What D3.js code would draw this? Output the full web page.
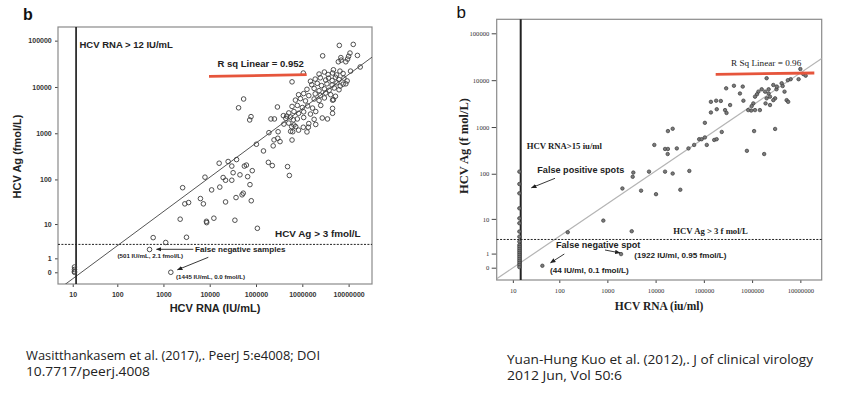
<!DOCTYPE html>
<html>
<head>
<meta charset="utf-8">
<script src="https://cdn.jsdelivr.net/npm/d3@7"></script>
<style>
  body { margin: 0; background: #fff; }
  svg { display: block; }
</style>
</head>
<body>
<div id="chart"></div>
<script>
const width = 842;
const height = 402;

// ---- data ----
const xTicks = [10, 100, 1000, 10000, 100000, 1000000, 10000000];
const yTicks = [0, 1, 10, 100, 1000, 10000, 100000];

// Wasitthankasem 2017: [HCV RNA IU/mL, HCV Ag fmol/L]
const wasPoints = [
  [2600, 66], [2900, 29], [3500, 31], [2300, 13], [600, 4.6], [1120, 3.4], [3150, 4.7],
  [501, 2.1], [1445, 0], [6300, 38], [7300, 29], [11000, 59], [16500, 68], [22000, 96],
  [30000, 96], [8500, 11.6], [8600, 10.8], [12300, 13.7], [22000, 32], [37000, 40],
  [50000, 46], [53000, 50], [79000, 34], [35000, 12.3], [107000, 7.9], [74000, 77],
  [11, 0.3], [11, 0.15], [11, 0.05], [11, 0],
  [54000, 5500], [42000, 3550], [78000, 2290], [73000, 1940], [290000, 3700], [210000, 2040],
  [250000, 2040], [390000, 2400], [460000, 2350], [190000, 1030], [300000, 1080], [295000, 780],
  [245000, 720], [330000, 660], [235000, 535], [145000, 415], [102000, 580], [185000, 235],
  [225000, 200], [525000, 122], [38000, 270], [25000, 245], [30000, 195], [16000, 225],
  [56000, 195], [62000, 205], [83000, 155], [32000, 140], [45000, 126], [19500, 110],
  [66000, 115], [7900, 112], [480000, 190], [600000, 715], [620000, 1080], [720000, 1390],
  [1.05e6, 1350], [1.35e6, 1350], [590000, 1390], [640000, 1950],
  [6.3e6, 79000], [1.26e7, 83000], [2.75e6, 47000], [1.07e7, 54000], [1.0e7, 46000],
  [9.5e6, 40000], [6.8e6, 43000], [6.0e6, 35000], [6.9e6, 38000], [1.55e7, 48000],
  [1.78e7, 27000], [600000, 12900], [1.5e6, 13300], [4.7e6, 23500], [8.7e6, 11700],
  [4.7e6, 5300], [4.5e6, 3450], [1.05e6, 20000], [1.1e7, 22000], [8.7e6, 35000],
  [2.3e6, 19000], [3.0e6, 21000], [3.6e6, 18600], [4.5e6, 20000], [5.5e6, 18200], [6.5e6, 22000], [7.6e6, 19500],
  [1.9e6, 14800], [2.45e6, 15800], [3.2e6, 14100], [3.7e6, 15500], [4.4e6, 13800], [5.2e6, 16200],
  [6.2e6, 14500], [7.9e6, 15500], [9.3e6, 13500],
  [1.6e6, 11200], [2.1e6, 12000], [2.6e6, 10700], [3.4e6, 11700], [4.4e6, 11000], [5.6e6, 12300],
  [6.6e6, 10500], [7.6e6, 11500],
  [1.26e6, 8900], [1.8e6, 9300], [2.3e6, 8300], [3.0e6, 9100], [3.8e6, 8500], [4.9e6, 9500], [6.2e6, 8700],
  [830000, 6800], [1.07e6, 7200], [1.38e6, 6500], [1.9e6, 7100], [2.45e6, 6600], [3.2e6, 7400],
  [4.1e6, 6800], [5.2e6, 6300],
  [710000, 5200], [910000, 5600], [1.17e6, 5000], [1.8e6, 5500], [2.3e6, 5100], [3.0e6, 5800], [4.5e6, 5200],
  [600000, 3800], [780000, 4000], [1.0e6, 3600], [1.3e6, 3900], [1.66e6, 3500], [2.5e6, 4000],
  [510000, 2750], [660000, 2950], [830000, 2700], [1.07e6, 2900], [1.5e6, 2600], [1.95e6, 2950], [4.5e6, 2700],
  [440000, 2100], [560000, 2240], [780000, 2040], [1.07e6, 2190], [1.8e6, 2000], [2.7e6, 2140], [3.5e6, 2040],
  [400000, 1580], [510000, 1660], [660000, 1510], [1.38e6, 1620], [1.95e6, 1550],
  [560000, 1100], [830000, 1170], [1.26e6, 1070]
];
const wasFit = { slope: 0.74, intercept: -0.91 };   // in log10(1+v) space

// Kuo 2012: [HCV RNA iu/ml, HCV Ag fmol/L]
const kuoPoints = [
  [1.0e7, 17300], [1.15e7, 13500], [1.29e7, 12500], [9.2e6, 10500], [6.3e6, 10500], [5.5e6, 10000],
  [4.1e6, 8600], [4.3e6, 7500], [2.0e6, 11000], [2.75e6, 7900], [3.2e6, 6400], [2.2e6, 6400],
  [1.86e6, 5700], [1.58e6, 6400], [1.35e6, 5700], [1.26e6, 5000], [2.2e6, 5200], [2.35e6, 4450],
  [2.0e6, 4100], [3.0e6, 4100], [2.75e6, 3750], [1.9e6, 3200], [2.35e6, 2950], [5.2e6, 3750],
  [5.6e6, 3450], [1.06e6, 3200], [980000, 2800], [1.15e6, 2300], [960000, 2250], [830000, 2300],
  [1.45e6, 2300], [660000, 3650], [290000, 6700], [420000, 7600], [640000, 7300], [560000, 5200],
  [350000, 2950], [275000, 2300], [295000, 2000], [140000, 3450], [180000, 3650], [225000, 3600],
  [185000, 2400], [140000, 2050], [105000, 1230], [18000, 820], [22600, 920], [1.1e6, 820],
  [3.0e6, 910], [235000, 785], [9400, 415], [15700, 340], [18000, 340], [17800, 265], [27500, 350],
  [48000, 350], [63000, 415], [80000, 550], [90000, 550], [105000, 600], [115000, 415],
  [164000, 530], [184000, 550], [780000, 310], [1.78e6, 265], [3450, 106], [3350, 86], [7300, 111],
  [15700, 111], [22600, 101], [50000, 115], [2050, 48], [5000, 43], [10200, 36], [32500, 45],
  [824, 9.1], [150, 4.7], [3200, 5.0], [1922, 0.95], [44, 0.1],
  [3.25e6, 7300], [4.7e6, 5700], [1.15e6, 4450]
];
const kuoLowRna = 14;
const kuoLowAg = [111, 60, 37.6, 17.5, 10.3, 7.9, 4.9, 3.6, 2.6, 2.05, 1.77, 1.5, 1.27, 1.06,
  0.87, 0.69, 0.53, 0.39, 0.26, 0.14, 0.03];
const kuoFit = { slope: 0.698, intercept: -0.73 };

const sans = "'Liberation Sans', Arial, sans-serif";
const serif = "'Liberation Serif', 'Times New Roman', serif";

const svg = d3.select('#chart')
  .append('svg')
  .attr('width', width)
  .attr('height', height);

// inverse of log10(1+|v|)
function fromLog(l) {
  return l >= 0 ? Math.pow(10, l) - 1 : -(Math.pow(10, -l) - 1);
}

function drawPanel(p) {
  const g = svg.append('g');
  const x = d3.scaleSymlog().constant(1).domain(p.xDomain).range([p.left, p.right]);
  const y = d3.scaleSymlog().constant(1).domain(p.yDomain).range([p.bottom, p.top]);

  const clipId = 'clip-' + p.id;
  g.append('clipPath').attr('id', clipId)
    .append('rect')
    .attr('x', p.left).attr('y', p.top)
    .attr('width', p.right - p.left).attr('height', p.bottom - p.top);

  // axes
  const xAxis = g.append('g')
    .attr('transform', `translate(0,${p.bottom})`)
    .call(d3.axisBottom(x).tickValues(xTicks).tickFormat(d3.format('d'))
      .tickSize(p.xTickSize).tickPadding(p.xTickPad));
  const yAxis = g.append('g')
    .attr('transform', `translate(${p.left},0)`)
    .call(d3.axisLeft(y).tickValues(yTicks).tickFormat(d3.format('d'))
      .tickSize(p.yTickSize).tickPadding(p.yTickPad));
  [xAxis, yAxis].forEach(a => {
    a.select('.domain').remove();
    a.selectAll('line').attr('stroke', '#444');
    a.selectAll('text')
      .attr('fill', '#333')
      .style('font-family', p.tickFont)
      .style('font-size', p.tickSize + 'px')
      .style('font-weight', p.tickWeight);
  });

  // frame
  g.append('rect')
    .attr('x', p.left).attr('y', p.top)
    .attr('width', p.right - p.left).attr('height', p.bottom - p.top)
    .attr('fill', 'none')
    .attr('stroke', p.frameColor)
    .attr('stroke-width', 1.2);

  // regression line
  const xd = x.domain();
  const ends = xd.map(v => [v, fromLog(p.fit.slope * Math.log10(1 + v) + p.fit.intercept)]);
  g.append('line')
    .attr('clip-path', `url(#${clipId})`)
    .attr('x1', x(ends[0][0])).attr('y1', y(ends[0][1]))
    .attr('x2', x(ends[1][0])).attr('y2', y(ends[1][1]))
    .attr('stroke', p.fitColor)
    .attr('stroke-width', p.fitWidth);

  // detection limits
  g.append('line')
    .attr('x1', x(p.rnaLimit)).attr('x2', x(p.rnaLimit))
    .attr('y1', p.top).attr('y2', p.bottom)
    .attr('stroke', '#222').attr('stroke-width', p.limitWidth);
  g.append('line')
    .attr('x1', p.left).attr('x2', p.right)
    .attr('y1', y(3)).attr('y2', y(3))
    .attr('stroke', '#222').attr('stroke-width', 1)
    .attr('stroke-dasharray', '2,1.4');

  // points
  g.append('g')
    .attr('clip-path', `url(#${clipId})`)
    .selectAll('circle')
    .data(p.points)
    .join('circle')
    .attr('cx', d => x(d[0]))
    .attr('cy', d => y(d[1]))
    .attr('r', p.dot.r)
    .attr('fill', p.dot.fill)
    .attr('stroke', p.dot.stroke)
    .attr('stroke-width', p.dot.sw);

  // red R-square marker
  g.append('line')
    .attr('x1', p.redLine[0]).attr('y1', p.redLine[1])
    .attr('x2', p.redLine[2]).attr('y2', p.redLine[3])
    .attr('stroke', '#e6553c').attr('stroke-width', 2.8);

  // arrows
  p.arrows.forEach(a => {
    g.append('line')
      .attr('x1', a[0]).attr('y1', a[1]).attr('x2', a[2]).attr('y2', a[3])
      .attr('stroke', '#222').attr('stroke-width', 0.9)
      .attr('marker-end', 'url(#arrowhead)');
  });

  // texts
  p.labels.forEach(t => {
    const el = g.append('text')
      .attr('x', t.x).attr('y', t.y)
      .attr('fill', t.color || '#222')
      .attr('text-anchor', t.anchor || 'start')
      .style('font-family', t.font)
      .style('font-size', t.size + 'px')
      .style('font-weight', t.weight || 'normal')
      .text(t.text);
    if (t.rotate) el.attr('transform', `rotate(-90,${t.x},${t.y})`);
  });
}

svg.append('defs').append('marker')
  .attr('id', 'arrowhead')
  .attr('viewBox', '0 0 10 10')
  .attr('refX', 9).attr('refY', 5)
  .attr('markerWidth', 5.5).attr('markerHeight', 5.5)
  .attr('markerUnits', 'userSpaceOnUse')
  .attr('orient', 'auto')
  .append('path')
  .attr('d', 'M0,1 L10,5 L0,9 Z')
  .attr('fill', '#222');

drawPanel({
  id: 'was',
  left: 58, right: 372, top: 27, bottom: 284,
  xDomain: [4.29, 3.2e7], yDomain: [-0.79, 197000],
  xTickSize: 3, xTickPad: 5.5, yTickSize: 3, yTickPad: 3.3,
  tickFont: sans, tickSize: 7, tickWeight: 'bold',
  frameColor: '#8a8a8a',
  fit: wasFit, fitColor: '#555', fitWidth: 1,
  rnaLimit: 12, limitWidth: 1.7,
  points: wasPoints,
  dot: { r: 2.3, fill: 'none', stroke: '#3c3c3c', sw: 0.9 },
  redLine: [209, 76.3, 306.7, 74.7],
  arrows: [[193.3, 249.3, 156.5, 249.3], [208.3, 257.3, 177.5, 269.8]],
  labels: [
    { text: 'b', x: 23, y: 20, font: sans, size: 16, weight: 'bold', color: '#111' },
    { text: 'HCV RNA > 12 IU/mL', x: 79.5, y: 47.5, font: sans, size: 9.5, weight: 'bold' },
    { text: 'R sq Linear = 0.952', x: 217.5, y: 66.5, font: sans, size: 9.5, weight: 'bold' },
    { text: 'HCV Ag > 3 fmol/L', x: 275, y: 236.5, font: sans, size: 9.9, weight: 'bold' },
    { text: 'False negative samples', x: 195, y: 252, font: sans, size: 8.1, weight: 'bold' },
    { text: '(501 IU/mL, 2.1 fmol/L)', x: 117.5, y: 257.5, font: sans, size: 6.2, weight: 'bold' },
    { text: '(1445 IU/mL, 0.0 fmol/L)', x: 176, y: 278.5, font: sans, size: 6.2, weight: 'bold' },
    { text: 'HCV RNA (IU/mL)', x: 215, y: 312, font: sans, size: 11, weight: 'bold', anchor: 'middle' },
    { text: 'HCV Ag (fmol/L)', x: 20.8, y: 156.5, font: sans, size: 11, weight: 'bold', anchor: 'middle', rotate: true }
  ]
});

drawPanel({
  id: 'kuo',
  left: 496.7, right: 821.7, top: 19.3, bottom: 280,
  xDomain: [4.09, 2.77e7], yDomain: [-0.83, 199000],
  xTickSize: 3, xTickPad: 5.7, yTickSize: 5, yTickPad: 2.4,
  tickFont: serif, tickSize: 6.6, tickWeight: 'normal',
  frameColor: '#8a8a8a',
  fit: kuoFit, fitColor: '#b4b4b4', fitWidth: 1.2,
  rnaLimit: 15, limitWidth: 2,
  points: kuoPoints.concat(kuoLowAg.map(v => [kuoLowRna, v])),
  dot: { r: 1.75, fill: '#7a7a7a', stroke: '#3a3a3a', sw: 0.7 },
  redLine: [715.7, 74.3, 814.3, 73],
  arrows: [[555, 178.3, 531.5, 187.8], [605, 250, 620, 252.9], [564.3, 254, 550.5, 262.8]],
  labels: [
    { text: 'b', x: 456.5, y: 18.3, font: sans, size: 17, color: '#111' },
    { text: 'R Sq Linear = 0.96', x: 731, y: 65.7, font: serif, size: 9.2 },
    { text: 'HCV RNA>15 iu/ml', x: 526.7, y: 149.3, font: serif, size: 8.7, weight: 'bold' },
    { text: 'False positive spots', x: 537.3, y: 173.3, font: sans, size: 9.1, weight: 'bold' },
    { text: 'HCV Ag > 3 f mol/L', x: 673.3, y: 234, font: serif, size: 8.7, weight: 'bold' },
    { text: 'False negative spot', x: 556, y: 247.7, font: sans, size: 9.1, weight: 'bold' },
    { text: '(1922 IU/ml, 0.95 fmol/L)', x: 634.3, y: 257.7, font: sans, size: 8.1, weight: 'bold' },
    { text: '(44 IU/ml, 0.1 fmol/L)', x: 550, y: 273.3, font: sans, size: 8.1, weight: 'bold' },
    { text: 'HCV RNA (iu/ml)', x: 659, y: 310, font: serif, size: 11.5, weight: 'bold', anchor: 'middle' },
    { text: 'HCV Ag (f mol/L)', x: 467.5, y: 146, font: serif, size: 12.5, weight: 'bold', anchor: 'middle', rotate: true }
  ]
});

// citations under the panels
const notes = [
  { text: 'Wasitthankasem et al. (2017),. PeerJ 5:e4008; DOI', x: 26, y: 360, w: 294 },
  { text: '10.7717/peerj.4008', x: 26, y: 376, w: 124 },
  { text: 'Yuan-Hung Kuo et al. (2012),. J of clinical virology', x: 507, y: 364, w: 306 },
  { text: '2012 Jun, Vol 50:6', x: 507, y: 380, w: 115 }
];
svg.append('g')
  .selectAll('text')
  .data(notes)
  .join('text')
  .attr('x', d => d.x)
  .attr('y', d => d.y)
  .attr('textLength', d => d.w)
  .attr('lengthAdjust', 'spacingAndGlyphs')
  .attr('fill', '#222')
  .style('font-family', "'Open Sans', sans-serif")
  .style('font-size', '12.5px')
  .text(d => d.text);
</script>
</body>
</html>
